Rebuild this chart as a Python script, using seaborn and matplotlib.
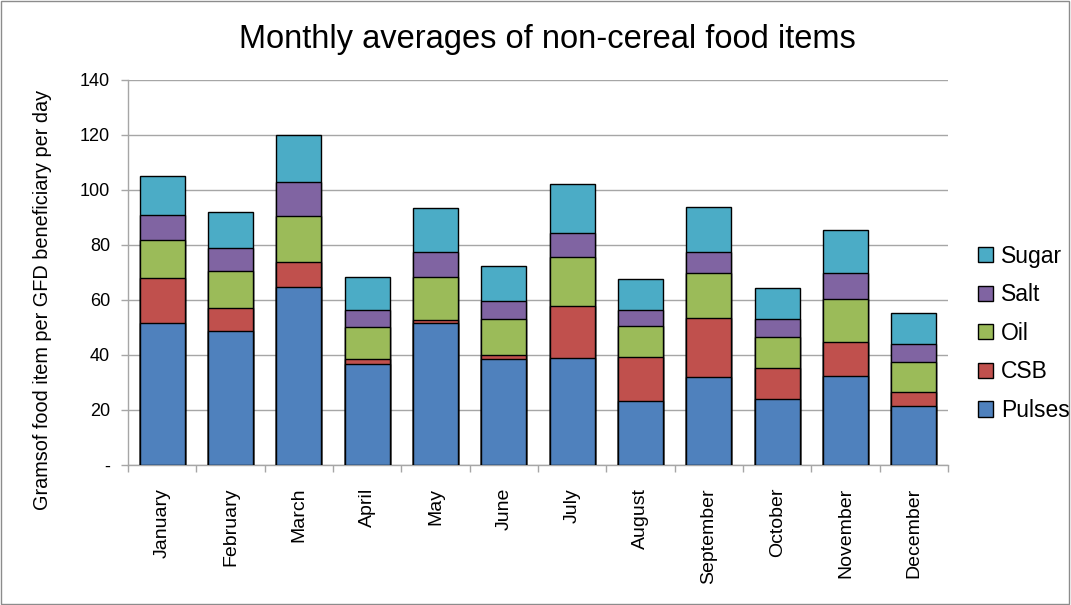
import numpy as np
import pandas as pd
import matplotlib
matplotlib.use("Agg")
import matplotlib.pyplot as plt
import matplotlib.patches as mpatches
import seaborn as sns

months = ["January", "February", "March", "April", "May", "June", "July",
          "August", "September", "October", "November", "December"]

# Grams per GFD beneficiary per day, by item
pulses = [51.5, 48.7, 64.6, 36.6, 51.5, 38.4, 38.9, 23.4, 31.9, 23.9, 32.4, 21.5]
csb    = [16.4,  8.5,  9.1,  1.8,  1.2,  1.5, 18.8, 16.0, 21.6, 11.3, 12.4,  5.2]
oil    = [14.0, 13.2, 17.0, 11.9, 15.8, 13.2, 17.8, 11.3, 16.4, 11.2, 15.7, 10.8]
salt   = [ 9.1,  8.4, 12.1,  6.1,  8.8,  6.5,  9.0,  5.7,  7.6,  6.7,  9.4,  6.5]
sugar  = [14.1, 13.2, 17.1, 12.1, 16.3, 12.6, 17.8, 11.2, 16.4, 11.3, 15.4, 11.4]

items = ["Pulses", "CSB", "Oil", "Salt", "Sugar"]
colors = ["#4F81BD", "#C0504D", "#9BBB59", "#8064A2", "#4BACC6"]
y_ticks = [0, 20, 40, 60, 80, 100, 120, 140]
y_tick_labels = ["-", "20", "40", "60", "80", "100", "120", "140"]

sns.set_theme(style="white")
plt.rcParams["font.family"] = ["Liberation Sans", "DejaVu Sans"]
plt.rcParams["text.color"] = "black"
plt.rcParams["axes.labelcolor"] = "black"

layers = np.array([pulses, csb, oil, salt, sugar])
cumulative = np.cumsum(layers, axis=0)

fig = plt.figure(figsize=(10.71, 6.05), dpi=100)
ax = fig.add_axes([0.1195, 0.2314, 0.7657, 0.6364])

# Stacked bars: draw the running totals from the top layer down
for i in range(len(items) - 1, -1, -1):
    df = pd.DataFrame({"month": months, "value": cumulative[i]})
    sns.barplot(data=df, x="month", y="value", order=months, color=colors[i],
                saturation=1, width=0.66, edgecolor="black", linewidth=1.0,
                ax=ax, zorder=3)

ax.set_ylim(0, 140)
ax.set_xlim(-0.5, len(months) - 0.5)
ax.set_yticks(y_ticks)
ax.set_yticklabels(y_tick_labels, fontsize=13)
ax.grid(axis="y", color="#A6A6A6", linewidth=1.0, zorder=0)
ax.grid(axis="x", visible=False)
ax.set_axisbelow(True)

ax.set_xticks(range(len(months)))
ax.set_xticklabels(months, rotation=90, fontsize=14, va="top", ha="center")
ax.set_xticks(np.arange(-0.5, len(months), 1.0), minor=True)
ax.tick_params(axis="x", which="major", length=0, pad=16.5, labelcolor="black")
ax.tick_params(axis="x", which="minor", length=5, width=1, color="#A6A6A6",
               direction="out", bottom=True)
ax.tick_params(axis="y", length=5, width=1, color="#A6A6A6", direction="out",
               left=True, pad=8, labelcolor="black")

for side in ["top", "right"]:
    ax.spines[side].set_visible(False)
for side in ["left", "bottom"]:
    ax.spines[side].set_color("#A6A6A6")
    ax.spines[side].set_linewidth(1.0)

ax.set_xlabel("")
ax.set_ylabel("Gramsof food item per GFD beneficiary per day", fontsize=14.3)
ax.yaxis.set_label_coords(-0.093, 0.43)

fig.text(0.511, 0.934, "Monthly averages of non-cereal food items",
         ha="center", va="center", fontsize=23.5)

handles = [mpatches.Patch(facecolor=colors[i], edgecolor="black", linewidth=1.0,
                          label=items[i]) for i in range(len(items) - 1, -1, -1)]
fig.legend(handles=handles, loc="center left", bbox_to_anchor=(0.894, 0.449),
           frameon=False, fontsize=16.5, handlelength=0.65, handleheight=0.65,
           handletextpad=0.35, labelspacing=0.68)

fig.patches.append(mpatches.Rectangle((0.0008, 0.0015), 0.9975, 0.997,
                                      transform=fig.transFigure, fill=False,
                                      edgecolor="#8C8C8C", linewidth=1.0))

fig.savefig("out.png", dpi=100)
